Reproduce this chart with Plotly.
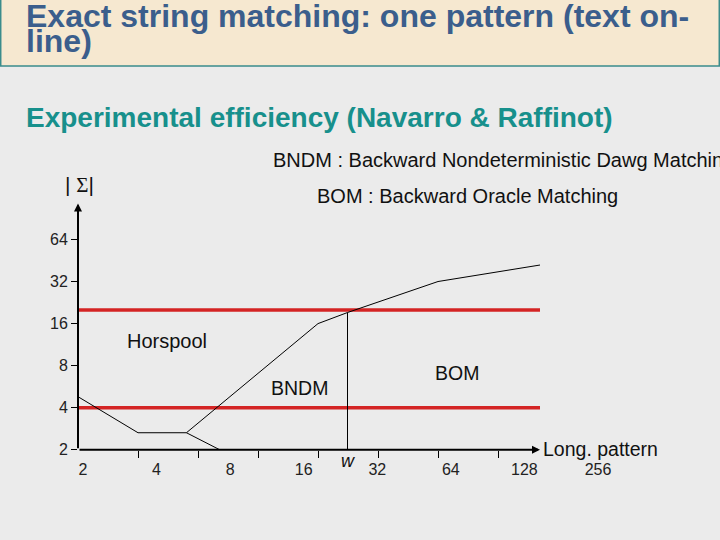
import numpy as np
import plotly.graph_objects as go

# ---------------- data ----------------
x_tick_labels = ["2", "4", "8", "16", "32", "64", "128", "256"]
x_tick_values = [2, 4, 8, 16, 32, 64, 128, 256]
y_tick_labels = ["2", "4", "8", "16", "32", "64"]
y_tick_values = [2, 4, 8, 16, 32, 64]

# boundary curve (Horspool | BNDM | BOM), pattern length m vs alphabet size |Sigma|
boundary_m = [2, 4, 7, 32, 45, 128, 416]
boundary_sigma = [4.8, 2.65, 2.65, 16, 19.2, 32, 42]
# lower branch (Horspool | BNDM)
branch_m = [7, 10.3]
branch_sigma = [2.65, 2]
# w : machine word length
w_m = [45, 45]
w_sigma = [2, 19.2]
# red thresholds of |Sigma|
threshold_sigma = [4, 20]
threshold_m = [2, 416]

W, H = 720, 540          # design grid (slide pixels)
FIG_H = 550              # rendered height (page capture is ~550 tall)
L = np.log2

fig = go.Figure()

for s in threshold_sigma:
    fig.add_trace(go.Scatter(x=L(threshold_m), y=L([s, s]), mode="lines",
                             line=dict(color="#d42424", width=3.5),
                             hoverinfo="skip", showlegend=False))
fig.add_trace(go.Scatter(x=L(boundary_m), y=L(boundary_sigma), mode="lines",
                         line=dict(color="black", width=1), showlegend=False))
fig.add_trace(go.Scatter(x=L(branch_m), y=L(branch_sigma), mode="lines",
                         line=dict(color="black", width=1), showlegend=False))
fig.add_trace(go.Scatter(x=L(w_m), y=L(w_sigma), mode="lines",
                         line=dict(color="black", width=1), showlegend=False))

# axis geometry (slide pixels)
x0px, x1px = 78, 540
y0px, y1px = 449, 203
px_per_oct_x = 60
px_per_oct_y = 42
xr = [1, 1 + (x1px - x0px) / px_per_oct_x]
yr = [1, 1 + (y0px - y1px) / px_per_oct_y]
# tick-label axis (labels are shifted relative to tick marks on the slide)
lab0, lab_step = 83, 73.57
lab_dom_px = [78, 650]
xr_lab = [1 + (lab_dom_px[0] - lab0) / lab_step, 1 + (lab_dom_px[1] - lab0) / lab_step]

font = "Liberation Sans, Arial, sans-serif"
tickfont = dict(family=font, size=16, color="#222")

fig.update_layout(
    width=W, height=FIG_H, autosize=False,
    margin=dict(l=0, r=0, t=0, b=0, pad=0),
    paper_bgcolor="#ebebeb", plot_bgcolor="rgba(0,0,0,0)",
    showlegend=False,
    xaxis=dict(domain=[x0px / W, x1px / W], range=xr, showgrid=False, zeroline=False,
               tickvals=L(x_tick_values[1:]), showticklabels=False,
               ticks="outside", ticklen=7, tickwidth=1, tickcolor="black",
               showline=False, anchor="y"),
    xaxis3=dict(overlaying="x", range=xr, showgrid=False, zeroline=False,
                tickvals=L(x_tick_values[1:]), showticklabels=False,
                ticks="inside", ticklen=6, tickwidth=1, tickcolor="black",
                showline=False, anchor="y"),
    xaxis2=dict(domain=[lab_dom_px[0] / W, lab_dom_px[1] / W], range=xr_lab,
                anchor="y", showgrid=False, zeroline=False, showline=False,
                tickvals=L(x_tick_values), ticktext=x_tick_labels, ticks="",
                tickfont=tickfont, ticklabelstandoff=8),
    yaxis=dict(domain=[(H - y0px) / H, (H - y1px) / H], range=yr, showgrid=False,
               zeroline=False, tickvals=L(y_tick_values), ticktext=y_tick_labels,
               ticks="outside", ticklen=6, tickwidth=1, tickcolor="black",
               tickfont=tickfont, ticklabelstandoff=0, showline=False, anchor="x"),
    yaxis2=dict(overlaying="y", range=yr, showgrid=False, zeroline=False,
                tickvals=L(y_tick_values), showticklabels=False,
                ticks="inside", ticklen=5, tickwidth=1, tickcolor="black",
                showline=False, anchor="x", side="left"),
)

# dummy trace so the label axis is rendered
fig.add_trace(go.Scatter(x=[None], y=[None], xaxis="x2", yaxis="y", showlegend=False,
                         hoverinfo="skip"))

# axis arrows
fig.add_annotation(x=xr[1], y=1, ax=xr[0], ay=1, xref="x", yref="y", axref="x", ayref="y",
                   text="", showarrow=True, arrowhead=2, arrowsize=0.8, arrowwidth=2,
                   arrowcolor="black", standoff=0, startstandoff=0)
fig.add_annotation(x=1, y=yr[1], ax=1, ay=1, xref="x", yref="y", axref="x", ayref="y",
                   text="", showarrow=True, arrowhead=2, arrowsize=0.8, arrowwidth=2,
                   arrowcolor="black", standoff=0, startstandoff=0)

# title band
fig.add_shape(type="rect", xref="paper", yref="paper", x0=0.001, x1=0.999,
              y0=1 - 66 / H, y1=1.002, fillcolor="#f6e8d0",
              line=dict(color="#3a8c8c", width=1.5), layer="below")


def txt(s, xpx, ypx, size, color="#111", xanchor="left", bold=False, italic=False):
    if bold:
        s = "<b>" + s + "</b>"
    if italic:
        s = "<i>" + s + "</i>"
    fig.add_annotation(x=xpx / W, y=1 - ypx / H, xref="paper", yref="paper", text=s,
                       showarrow=False, xanchor=xanchor, yanchor="middle",
                       font=dict(family=font, size=size, color=color))


txt("Exact string matching: one pattern (text on-", 24, 16, 32, color="#3b5e8c", bold=True)
txt("line)", 24, 41, 32, color="#3b5e8c", bold=True)
txt("Experimental efficiency (Navarro &amp; Raffinot)", 24, 117, 28, color="#17908c", bold=True)
txt("BNDM : Backward Nondeterministic Dawg Matching", 271, 160, 20)
txt("BOM : Backward Oracle Matching", 315, 196, 20)
txt("| <span style='font-family:Liberation Serif'>Σ</span>|", 63, 185, 21)
txt("Horspool", 125, 340, 20)
txt("BNDM", 269, 387, 19.5)
txt("BOM", 433, 372, 19.5)
txt("w", 348, 460, 18, xanchor="center", italic=True)
txt("Long. pattern", 541, 448, 19.5)

fig.write_html(
    "out.html",
    config={"displayModeBar": False, "responsive": False},
    default_width="720px", default_height=f"{FIG_H}px",
    post_script=("document.documentElement.style.margin='0';"
                 "document.documentElement.style.overflow='hidden';"
                 "document.body.style.margin='0';"
                 "document.body.style.overflow='hidden';"),
)
